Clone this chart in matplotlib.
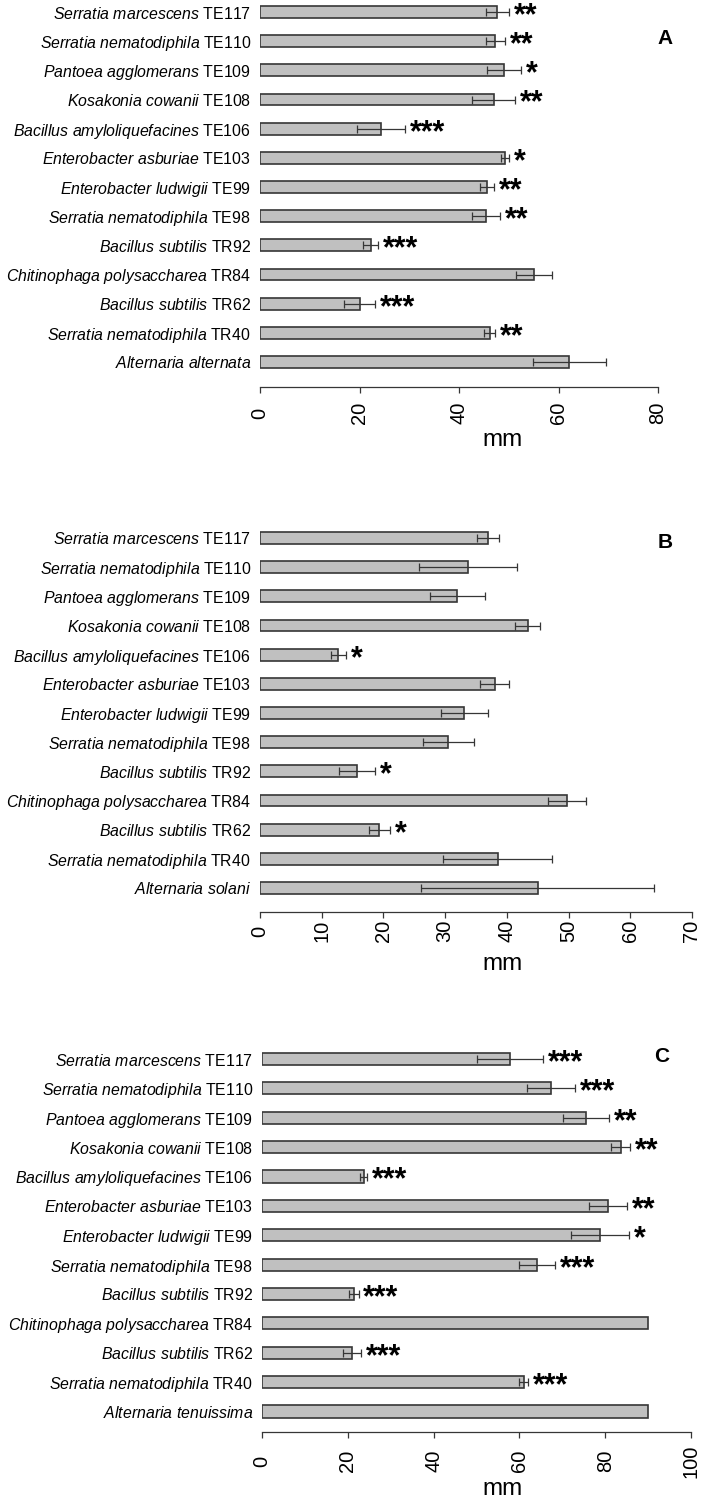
import matplotlib
matplotlib.use("Agg")
import matplotlib.pyplot as plt
from matplotlib import font_manager

# ── Dati ─────────────────────────────────────────────────────────────────────
species = [
    "Serratia marcescens", "Serratia nematodiphila", "Pantoea agglomerans",
    "Kosakonia cowanii", "Bacillus amyloliquefacines", "Enterobacter asburiae",
    "Enterobacter ludwigii", "Serratia nematodiphila", "Bacillus subtilis",
    "Chitinophaga polysaccharea", "Bacillus subtilis", "Serratia nematodiphila",
]
codes = ["TE117", "TE110", "TE109", "TE108", "TE106", "TE103",
         "TE99", "TE98", "TR92", "TR84", "TR62", "TR40"]

controls = ["Alternaria alternata", "Alternaria solani", "Alternaria tenuissima"]

a_mean = [47.7, 47.3, 49.0, 47.0, 24.3, 49.2, 45.7, 45.5, 22.3, 55.1, 20.0, 46.2, 62.2]
a_sd = [2.3, 1.9, 3.4, 4.3, 4.9, 0.8, 1.4, 2.8, 1.5, 3.6, 3.1, 1.1, 7.3]
a_sig = ["**", "**", "*", "**", "***", "*", "**", "**", "***", "", "***", "**", ""]

b_mean = [36.9, 33.7, 32.0, 43.4, 12.7, 38.0, 33.1, 30.5, 15.7, 49.8, 19.3, 38.5, 45.0]
b_sd = [1.8, 8.0, 4.5, 2.0, 1.2, 2.4, 3.8, 4.1, 2.9, 3.1, 1.7, 8.8, 18.9]
b_sig = ["", "", "", "", "*", "", "", "", "*", "", "*", "", ""]

c_mean = [57.8, 67.3, 75.5, 83.6, 23.7, 80.7, 78.8, 64.1, 21.4, 90.0, 20.9, 61.0, 90.0]
c_sd = [7.8, 5.6, 5.3, 2.2, 0.8, 4.4, 6.8, 4.3, 1.1, 0.0, 2.1, 1.1, 0.0]
c_sig = ["***", "***", "**", "**", "***", "**", "*", "***", "***", "", "***", "***", ""]

a_ticks = [0, 20, 40, 60, 80]
b_ticks = [0, 10, 20, 30, 40, 50, 60, 70]
c_ticks = [0, 20, 40, 60, 80, 100]

# ── Font ─────────────────────────────────────────────────────────────────────
names = {f.name for f in font_manager.fontManager.ttflist}
if "Liberation Sans Narrow" in names:
    axis_font, tick_fs, mm_fs = "Liberation Sans Narrow", 16, 19
else:
    axis_font, tick_fs, mm_fs = "Liberation Sans", 14.5, 17.5

plt.rcParams["font.family"] = ["Liberation Sans", "DejaVu Sans"]
plt.rcParams["mathtext.fontset"] = "custom"
plt.rcParams["mathtext.it"] = "Liberation Sans:italic"
plt.rcParams["mathtext.rm"] = "Liberation Sans"

W, H = 702, 1500
fig = plt.figure(figsize=(W / 100, H / 100), dpi=100)

EDGE = "#363636"
TICK_PX = 6


def make_label(sp, code=None):
    txt = r"$\mathit{" + sp.replace(" ", r"\ ") + "}$"
    return txt + (" " + code if code else "")


def panel(letter, means, sds, sig, control, ticks,
          x0, x1, first_y, last_y, axis_y, lab_y, mm_y, letter_xy):
    n = len(means)
    s = (last_y - first_y) / (n - 1)
    top_px = first_y - 0.55 * s
    ax = fig.add_axes([x0 / W, 1 - axis_y / H, (x1 - x0) / W, (axis_y - top_px) / H])
    pos = [n - 1 - i for i in range(n)]

    ax.barh(pos, means, height=0.41, color="#c0c0c0", edgecolor=EDGE, linewidth=1.2, zorder=2)
    for p, m, e, st in zip(pos, means, sds, sig):
        if e > 0:
            ax.errorbar(m, p, xerr=e, fmt="none", ecolor=EDGE, elinewidth=0.9,
                        capsize=3, capthick=0.9, zorder=3)
        if st:
            ax.annotate(st, xy=(m + e, p), xytext=(3.5, -0.40 * 22), textcoords="offset points",
                        ha="left", va="baseline", fontsize=22, fontweight="bold",
                        annotation_clip=False)

    labels = [make_label(sp, c) for sp, c in zip(species, codes)] + [make_label(control)]
    ax.set_yticks(pos)
    ax.set_yticklabels(labels, fontsize=11.4)
    ax.tick_params(axis="y", length=0, pad=6.5)

    ax.set_xlim(ticks[0], ticks[-1])
    ax.set_ylim(-(axis_y - last_y) / s, n - 1 + 0.55)
    ax.set_xticks(ticks)
    ax.set_xticklabels([str(t) for t in ticks], rotation=90, fontsize=tick_fs,
                       family=axis_font, va="center")
    ax.tick_params(axis="x", direction="out", length=TICK_PX * 0.72, width=0.9, color=EDGE,
                   pad=(lab_y - axis_y - TICK_PX) * 0.72)

    for side in ("left", "top", "right"):
        ax.spines[side].set_visible(False)
    ax.spines["bottom"].set_color(EDGE)
    ax.spines["bottom"].set_linewidth(0.9)

    fig.text(503 / W, 1 - mm_y / H, "mm", ha="center", va="center", fontsize=mm_fs, family=axis_font)
    fig.text(letter_xy[0] / W, 1 - letter_xy[1] / H, letter, ha="center", va="center",
             fontsize=15, fontweight="bold")


panel("A", a_mean, a_sd, a_sig, controls[0], a_ticks,
      260, 658, 12, 362, 387, 413, 440, (665, 38))
panel("B", b_mean, b_sd, b_sig, controls[1], b_ticks,
      260, 692, 538, 888, 912, 931, 964, (665, 543))
panel("C", c_mean, c_sd, c_sig, controls[2], c_ticks,
      262, 691, 1059, 1411.5, 1432, 1461, 1489, (662, 1056))

fig.savefig("out.png", dpi=100)
